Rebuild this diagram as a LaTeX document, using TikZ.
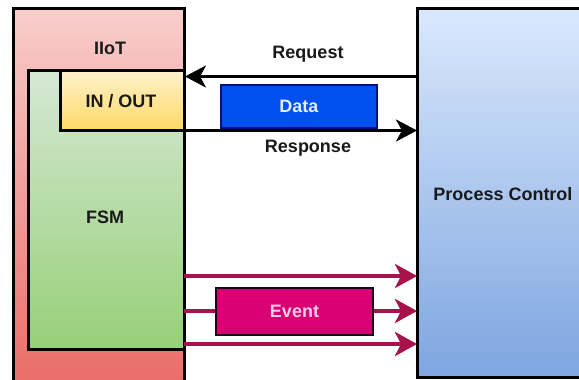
\documentclass[tikz,border=0pt]{standalone}
\usepackage{fontspec}
\setmainfont{Liberation Sans}
\usetikzlibrary{arrows.meta,positioning}
\definecolor{txt}{HTML}{1A1A1A}
\definecolor{evline}{HTML}{A8124A}
\tikzset{
  box/.style={draw=black,line width=3pt,inner sep=0pt},
  lbl/.style={font=\fontsize{18}{20}\selectfont\bfseries,text=txt,inner sep=0pt},
  blackarrow/.style={draw=black,line width=3pt,-{Stealth[length=21pt,width=22pt,inset=6pt]}},
  evarrow/.style={draw=evline,line width=4pt,-{Stealth[length=22pt,width=24pt,inset=6pt]}}
}
\begin{document}
\begin{tikzpicture}[x=1pt,y=-1pt]
\clip (0,0) rectangle (579,380);
\fill[white] (0,0) rectangle (579,380);
% IIoT outer box
\shade[top color={rgb,255:red,248;green,206;blue,204},bottom color={rgb,255:red,234;green,107;blue,102}] (13,8) rectangle (184,390);
\draw[line width=3pt] (13,390) -- (13,8) -- (184,8) -- (184,390);
\node[lbl] (iiot) at (110,48) {IIoT};
% FSM box
\shade[top color={rgb,255:red,213;green,232;blue,212},bottom color={rgb,255:red,151;green,208;blue,119}] (28,70) rectangle (184,349);
\node[box,minimum width=156pt,minimum height=279pt] (fsm) at (106,209.5) {};
\node[lbl] (fsml) at (105,217) {FSM};
% IN/OUT box
\shade[top color={rgb,255:red,255;green,242;blue,204},bottom color={rgb,255:red,255;green,217;blue,102}] (60,70) rectangle (184,130.5);
\node[box,minimum width=124pt,minimum height=60.5pt] (io) at (122,100.25) {};
\node[lbl] (iol) at (121,101) {IN / OUT};
% Process Control box
\shade[top color={rgb,255:red,218;green,232;blue,252},bottom color={rgb,255:red,126;green,166;blue,224}] (417,8) rectangle (600,377);
\node[box,minimum width=183pt,minimum height=369pt] (pc) at (508.5,192.5) {};
\node[lbl] (pcl) at (503,194) {Process Control};
% anchor coordinates
\coordinate (reqs) at (417,76.5);
\coordinate (reqe) at (185,76.5);
\coordinate (ress) at (184,130.5);
\coordinate (rese) at (417,130.5);
\coordinate (e1s) at (184,276);
\coordinate (e1e) at (417,276);
\coordinate (e2s) at (184,311);
\coordinate (e2e) at (417,311);
\coordinate (e3s) at (184,344);
\coordinate (e3e) at (417,344);
% Request / Response
\draw[blackarrow] (reqs) -- (reqe);
\draw[blackarrow] (ress) -- (rese);
\node[lbl] (req) at (308,54) {Request};
\node[lbl] (res) at (308,148) {Response};
% Data box
\node[draw={rgb,255:red,0;green,20;blue,120},line width=2pt,fill={rgb,255:red,0;green,80;blue,239},minimum width=156pt,minimum height=43pt,inner sep=0pt,font=\fontsize{18}{20}\selectfont\bfseries,text={rgb,255:red,225;green,236;blue,252}] (data) at (299,106) {Data};
% Event arrows
\draw[evarrow] (e1s) -- (e1e);
\draw[evarrow] (e2s) -- (e2e);
\draw[evarrow] (e3s) -- (e3e);
\node[draw={rgb,255:red,40;green,0;blue,20},line width=2pt,fill={rgb,255:red,216;green,0;blue,115},minimum width=157pt,minimum height=47pt,inner sep=0pt,font=\fontsize{18}{20}\selectfont\bfseries,text={rgb,255:red,250;green,205;blue,230}] (event) at (294.5,311) {Event};
\end{tikzpicture}
\end{document}
